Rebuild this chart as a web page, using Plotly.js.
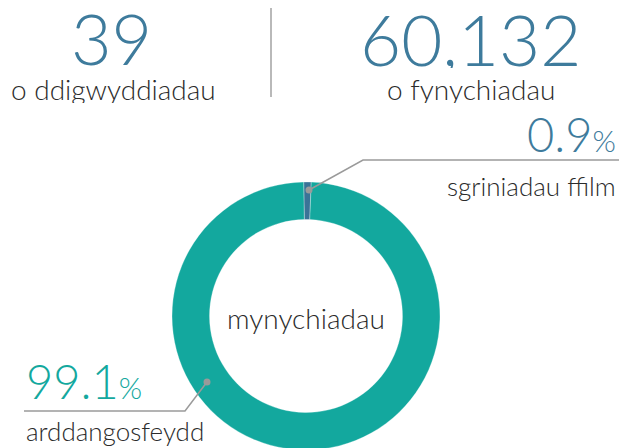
<!DOCTYPE html>
<html>
<head>
<meta charset="utf-8">
<script src="https://cdn.plot.ly/plotly-3.0.1.min.js"></script>
<style>html,body{margin:0;padding:0;overflow:hidden;background:#fff}</style>
</head>
<body>
<div id="chart" style="width:620px;height:460px"></div>
<script>
// Data
const categories = ['sgriniadau ffilm', 'arddangosfeydd'];
const shares = [0.9, 99.1];
const sliceColors = ['#3a7397', '#13a89e'];
const eventCount = '39';
const eventLabel = 'o ddigwyddiadau';
const attendanceCount = '60,132';
const attendanceLabel = 'o fynychiadau';
const centerLabel = 'mynychiadau';

const W = 620, H = 460;
const px = x => x / W;
const py = y => 1 - y / H;
const FONT = 'Lato, "Noto Sans", sans-serif';
const BLUE = '#3e7b9c';
const TEAL = '#13a89e';
const DARK = '#2b2b2b';
const GREY = '#9a9a9a';

const trace = {
  type: 'pie',
  labels: categories,
  values: shares,
  sort: false,
  direction: 'clockwise',
  rotation: -1,
  hole: 0.72,
  textinfo: 'none',
  hoverinfo: 'label+percent',
  marker: {colors: sliceColors, line: {color: 'rgba(255,255,255,0.5)', width: 0.6}},
  domain: {x: [172 / W, 440 / W], y: [10 / H, 278 / H]},
  showlegend: false
};

function ann(text, x, y, size, color, xanchor, extra) {
  return Object.assign({
    text: text, xref: 'paper', yref: 'paper', x: px(x), y: py(y),
    xanchor: xanchor || 'center', yanchor: 'middle', showarrow: false,
    font: {family: FONT, size: size, color: color, weight: 300}
  }, extra || {});
}

const pct = (v) => v.toFixed(1) + '<span style="font-size:30px">%</span>';

const annotations = [
  ann(eventCount, 111, 38, 70, BLUE, 'center', {height: 60}),
  ann(eventLabel, 113, 89, 28, DARK, 'center', {height: 28}),
  ann(attendanceCount, 470, 38, 71, BLUE, 'center', {height: 60}),
  ann(attendanceLabel, 471, 89, 28, DARK, 'center', {height: 28}),
  ann(centerLabel, 306, 318, 28, DARK),
  ann(pct(shares[0]), 618, 134, 47, BLUE, 'right'),
  ann(categories[0], 618, 186, 26, DARK, 'right'),
  ann(pct(shares[1]), 24, 381, 47, TEAL, 'left'),
  ann(categories[1], 24, 431, 26, DARK, 'left')
];

const line = (pts) => ({
  type: 'path', xref: 'paper', yref: 'paper',
  path: 'M ' + pts.map(p => px(p[0]) + ',' + py(p[1])).join(' L '),
  line: {color: GREY, width: 1.5}
});
const dot = (x, y) => ({
  type: 'circle', xref: 'paper', yref: 'paper',
  x0: px(x - 3.5), x1: px(x + 3.5), y0: py(y + 3.5), y1: py(y - 3.5),
  fillcolor: GREY, line: {width: 0}
});

const shapes = [
  {type: 'line', xref: 'paper', yref: 'paper', x0: px(271), x1: px(271), y0: py(8), y1: py(97), line: {color: '#8a8a8a', width: 1.2}},
  line([[309, 190], [363, 160], [619, 160]]),
  line([[207, 382], [185, 411], [24, 411]]),
  dot(309, 190),
  dot(207, 382)
];

Plotly.newPlot('chart', [trace], {
  width: W, height: H,
  margin: {l: 0, r: 0, t: 0, b: 0},
  paper_bgcolor: '#fff', plot_bgcolor: '#fff',
  annotations: annotations,
  shapes: shapes
}, {displayModeBar: false, staticPlot: true});
</script>
</body>
</html>
